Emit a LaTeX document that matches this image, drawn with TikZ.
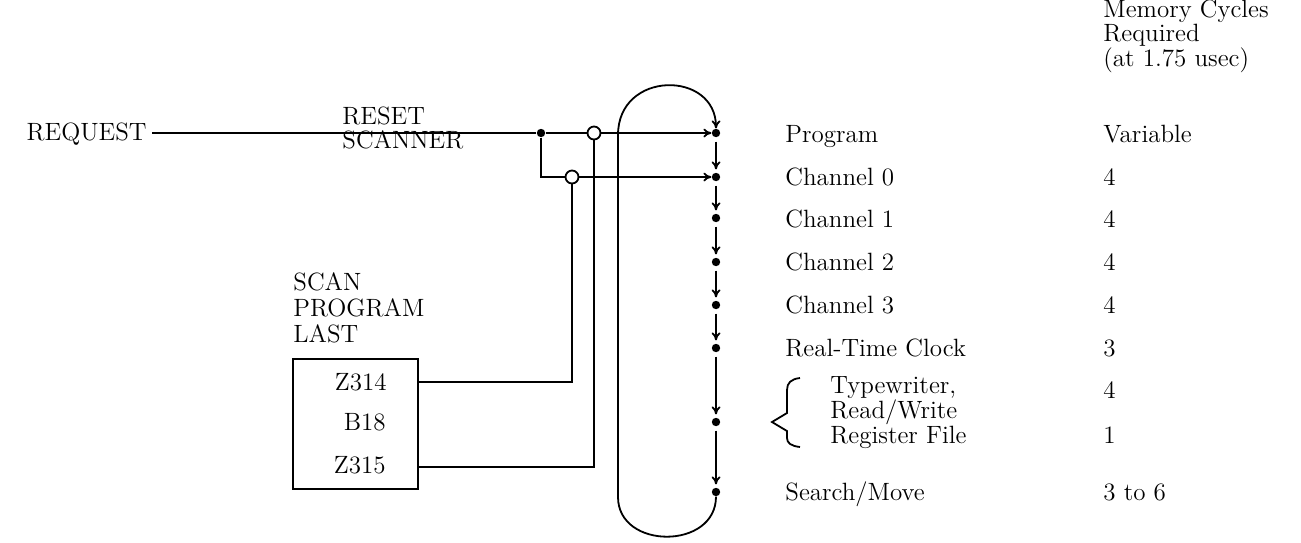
\documentclass[tikz,border=0pt]{standalone}
\usetikzlibrary{arrows.meta,positioning}
\begin{document}
\begin{tikzpicture}[x=0.5pt, y=-0.5pt,
  every node/.style={font=\fontsize{12.5}{11}\selectfont, inner sep=0pt},
  wire/.style={line width=0.9pt},
  flow/.style={wire, -{To[length=4pt,width=4.5pt]}},
  dot/.style={circle, fill, minimum size=4.2pt},
  hop/.style={circle, draw, fill=white, line width=0.9pt, minimum size=6.5pt},
  txt/.style={anchor=base west, align=left},
]
\useasboundingbox (0,0) rectangle (1301,542);

% Scanner positions
\foreach \n/\y in {0/133, 1/177, 2/218, 3/262, 4/305, 5/348, 6/422, 7/492}{
  \node[dot] (d\n) at (716,\y) {};
}
\foreach \a/\b in {0/1, 1/2, 2/3, 3/4, 4/5, 5/6, 6/7}{
  \draw[flow, shorten <=2pt, shorten >=1.5pt] (d\a) -- (d\b);
}
% Return loop
\draw[flow] (d7.south) .. controls (716,550) and (618,550) .. (618,497)
  -- (618,135) .. controls (618,70) and (716,70) .. (d0.north);

% Request and reset (base of last line)
\node[anchor=base east, inner xsep=2.5pt] (req) at (152,140) {REQUEST};
\node[txt] (reset) at (342,148) {RESET\\[1pt]SCANNER};
\node[dot] (jn) at (541,133) {};
\node[hop] (ca) at (594,133) {};
\node[hop] (cb) at (572,177) {};
\draw[wire] (req.east |- jn) -- (jn) -- (ca);
\draw[flow] (ca) -- (d0);
\draw[wire] (jn) |- (cb);
\draw[flow] (cb) -- (d1);

% Register
\node[txt] (scan) at (293,342) {SCAN\\[2pt]PROGRAM\\[2pt]LAST};
\node[draw, line width=0.9pt, minimum width=62.5pt, minimum height=65pt] (reg) at (355.5,424) {};
\node[anchor=base east] (z314) at (387,390) {Z314};
\node[anchor=base east] (b18) at (386,430) {B18};
\node[anchor=base east] (z315) at (386,473) {Z315};
\draw[wire] (cb) |- (reg.east |- 0,382);
\draw[wire] (ca) |- (reg.east |- 0,467);

% Program list and cycles
\node[txt] (head) at (1103,66) {Memory Cycles\\[-0.5pt]Required\\[-0.5pt](at 1.75 usec)};
\foreach \n/\y/\l/\v in {0/142/Program/Variable, 1/185/Channel 0/4, 2/227/Channel 1/4,
                         3/270/Channel 2/4, 4/313/Channel 3/4, 5/356/Real-Time Clock/3}{
  \node[txt] (l\n) at (785,\y) {\l};
  \node[txt] (v\n) at (1103,\y) {\v};
}
\node[txt] (l6) at (830,443) {Typewriter,\\[-0.5pt]Read/Write\\[-0.5pt]Register File};
\node[txt] (v6) at (1103,398) {4};
\node[txt] (v6b) at (1103,443) {1};
\node[txt] (l7) at (785,500) {Search/Move};
\node[txt] (v7) at (1103,500) {3 to 6};
\draw[wire] (800,378) .. controls (791,379) and (787,383) .. (787,390) -- (787,413)
  -- (772,422) -- (787,431) -- (787,438) .. controls (787,443) and (791,446) .. (800,447);

\end{tikzpicture}
\end{document}
